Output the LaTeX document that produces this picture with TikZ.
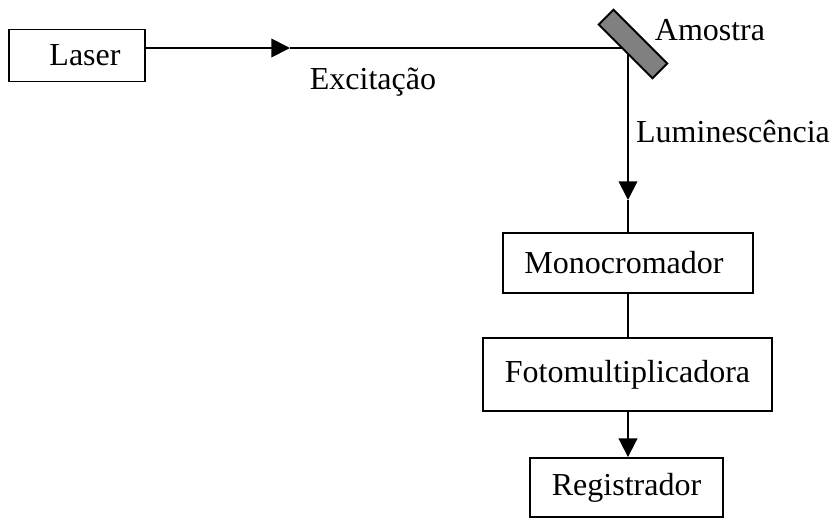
\documentclass[tikz,border=0pt]{standalone}
\usepackage{fontspec}
\setmainfont{Liberation Serif}
\usetikzlibrary{arrows.meta}
\begin{document}
\begin{tikzpicture}[x=0.75pt,y=-0.75pt,
  every node/.style={font=\fontsize{24}{28}\selectfont},
  blk/.style={draw,line width=1.4pt,inner sep=0pt,anchor=center},
  conn/.style={line width=1.4pt},
  arr/.style={conn,-{Triangle[length=14pt,width=14pt]}},
  lbl/.style={inner sep=0pt}]
\useasboundingbox (0,0) rectangle (836,518);
% boxes
\node[blk,minimum width=136*0.75pt,minimum height=52*0.75pt] (laser) at (77,55.5) {\hspace*{12pt}Laser};
\node[blk,minimum width=250*0.75pt,minimum height=60*0.75pt] (mono) at (628,263) {Monocromador\hspace*{6pt}};
\node[blk,minimum width=289*0.75pt,minimum height=73*0.75pt] (foto) at (627.5,374.5) {Fotomultiplicadora};
\node[blk,minimum width=193*0.75pt,minimum height=59*0.75pt] (reg) at (626.5,487.5) {Registrador};
% coordinates
\coordinate (lstart) at (laser.east |- 0,48);
\coordinate (harr) at (290,48);
\coordinate (hit) at (628,48);
\coordinate (varr) at (628,200);
\coordinate (mtop) at (628,233);
% connectors
\draw[arr] (lstart) -- (harr);
\draw[conn] (harr) -- (hit);
\draw[arr] (hit) -- (varr);
\draw[conn] (varr) -- (mtop);
\draw[conn] (mono.south -| 628,0) -- (foto.north -| 628,0);
\draw[arr] (foto.south -| 628,0) -- (reg.north -| 628,0);
% sample
\filldraw[fill=black!50,draw=black,line width=1.4pt]
  (613.5,9.7) -- (667.3,63.5) -- (652.5,78.3) -- (598.7,24.5) -- cycle;
% labels
\node[lbl] (exc) at (373,82) {Excitação};
\node[lbl] (amo) at (710,30) {Amostra};
\node[lbl] (lum) at (733,132) {Luminescência};
\end{tikzpicture}
\end{document}
